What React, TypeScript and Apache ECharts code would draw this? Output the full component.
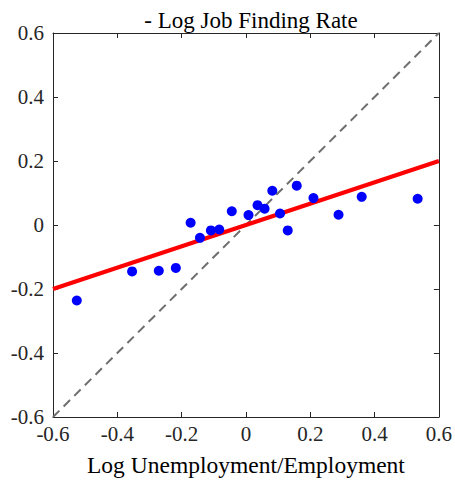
import React, { useEffect, useRef } from "react";
import * as echarts from "echarts";

const xValues = [-0.526, -0.354, -0.271, -0.218, -0.172, -0.143, -0.109, -0.083, -0.044, 0.008, 0.036, 0.058, 0.082, 0.106, 0.130, 0.158, 0.210, 0.288, 0.360, 0.534];
const yValues = [-0.236, -0.145, -0.143, -0.134, 0.007, -0.040, -0.017, -0.014, 0.043, 0.031, 0.062, 0.051, 0.107, 0.036, -0.017, 0.123, 0.084, 0.032, 0.088, 0.082];
const fitLine = [[-0.6, -0.2], [0.6, 0.2]];
const diagLine = [[-0.6, -0.6], [0.6, 0.6]];
const tickLabels = ["-0.6", "-0.4", "-0.2", "0", "0.2", "0.4", "0.6"];

const font = "'Liberation Serif', 'Times New Roman', serif";
const axisColor = "#262626";

export default function App() {
  const ref = useRef<HTMLDivElement>(null);
  useEffect(() => {
    const chart = echarts.init(ref.current!, null, { renderer: "svg" });
    const fmt = (v: number) => {
      const idx = Math.round((v + 0.6) / 0.2);
      return tickLabels[idx] ?? "";
    };
    const baseAxis = {
      type: "value" as const,
      min: -0.6,
      max: 0.6,
      interval: 0.2,
      axisLine: { show: true, onZero: false, lineStyle: { color: axisColor, width: 1 } },
      axisTick: { show: true, inside: true, length: 5, lineStyle: { color: axisColor } },
      splitLine: { show: false },
    };
    chart.setOption({
      animation: false,
      title: {
        text: "- Log Job Finding Rate",
        left: 246,
        textAlign: "center",
        top: 4,
        textStyle: { fontFamily: font, fontSize: 23, fontWeight: "normal", color: "#000" },
      },
      grid: { left: 53, right: 16, top: 33, bottom: 60, containLabel: false },
      xAxis: [
        {
          ...baseAxis,
          position: "bottom",
          name: "Log Unemployment/Employment",
          nameLocation: "middle",
          nameGap: 36,
          nameTextStyle: { fontFamily: font, fontSize: 23.5, color: "#000" },
          axisLabel: { fontFamily: font, fontSize: 21, color: axisColor, margin: 6, formatter: fmt },
        },
        {
          ...baseAxis,
          position: "top",
          axisLabel: { show: false },
        },
      ],
      yAxis: [
        {
          ...baseAxis,
          position: "left",
          axisLabel: { fontFamily: font, fontSize: 21, color: axisColor, margin: 9, formatter: fmt },
        },
        {
          ...baseAxis,
          position: "right",
          axisLabel: { show: false },
        },
      ],
      series: [
        {
          type: "line",
          data: diagLine,
          showSymbol: false,
          lineStyle: { color: "#6e6e6e", width: 2, type: [9, 6] },
          z: 1,
        },
        {
          type: "line",
          data: fitLine,
          showSymbol: false,
          lineStyle: { color: "#ff0000", width: 4 },
          z: 2,
        },
        {
          type: "scatter",
          data: xValues.map((x, i) => [x, yValues[i]]),
          symbolSize: 10,
          itemStyle: { color: "#0000ff", opacity: 1 },
          z: 3,
        },
      ],
    });
    return () => chart.dispose();
  }, []);
  return <div ref={ref} style={{ width: 455, height: 482, position: "absolute", left: 0, top: 0, background: "#fff" }} />;
}
